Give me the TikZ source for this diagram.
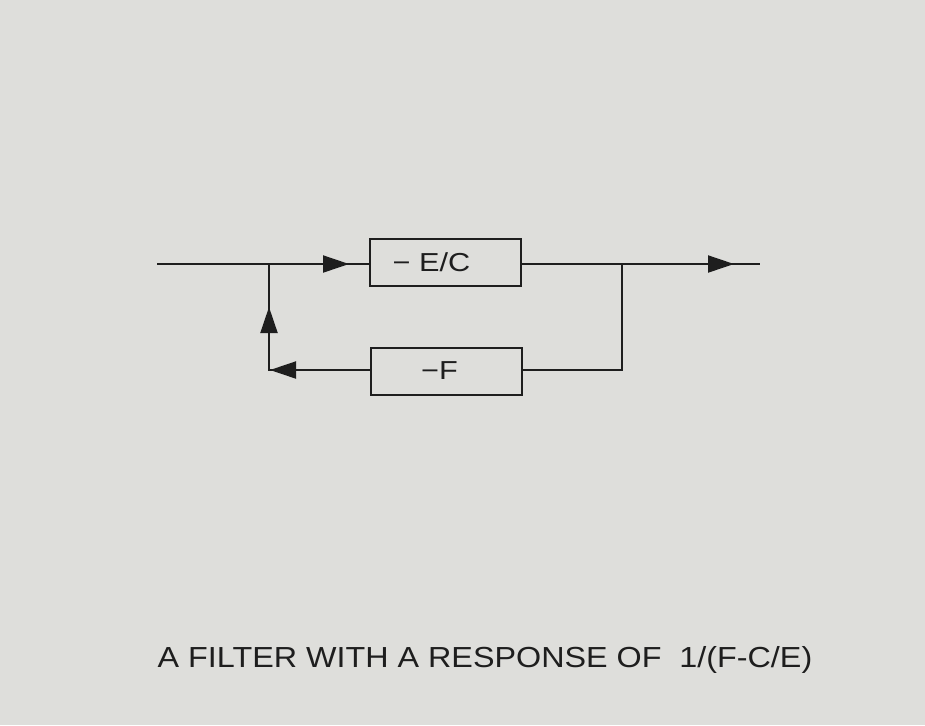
\documentclass[tikz,border=0pt]{standalone}
\usepackage{fontspec}
\usepackage{graphicx}
\setmainfont{Liberation Sans}
\usetikzlibrary{arrows.meta}
\definecolor{paper}{RGB}{222,222,219}
\definecolor{ink}{RGB}{30,30,30}
\begin{document}
\begin{tikzpicture}[x=0.5pt,y=-0.5pt,
  wire/.style={draw=ink,line width=1pt},
  tip/.style={wire,-{Triangle[length=13pt,width=8.5pt]}},
  blockbox/.style={draw=ink,line width=1pt,minimum width=75.5pt,minimum height=23.5pt,inner sep=0pt,font=\fontsize{13}{15}\selectfont,text=ink}]
\fill[paper] (0,0) rectangle (925,725);
\useasboundingbox (0,0) rectangle (925,725);
% blocks
\node[blockbox] (ec) at (445.5,262) {\hspace{-14pt}\scalebox{1.18}[1]{− E/C}};
\node[blockbox] (f) at (446.5,371) {\hspace{-7pt}\scalebox{1.18}[1]{−F}};
% coordinates
\coordinate (in) at (157,264);
\coordinate (j1) at (269,264);
\coordinate (a1) at (349,264);
\coordinate (j2) at (622,264);
\coordinate (a2) at (734,264);
\coordinate (out) at (760,264);
\coordinate (c1) at (622,370);
\coordinate (c2) at (269,370);
\coordinate (a3) at (270,370);
\coordinate (a4) at (269,307);
% forward path
\draw[wire] (in) -- (in -| ec.west);
\draw[tip] (in) -- (a1);
\draw[wire] (out -| ec.east) -- (out);
\draw[tip] (out -| ec.east) -- (a2);
% feedback path
\draw[wire] (j2) -- (c1) -- (c1 -| f.east);
\draw[wire] (c2 -| f.west) -- (c2) -- (j1);
\draw[tip] (c2 -| f.west) -- (a3);
\draw[tip] (c2) -- (a4);
% caption
\node[text=ink,font=\fontsize{14.5}{17}\selectfont,anchor=base] (cap) at (485,667) {\scalebox{1.114}[1]{A FILTER WITH A RESPONSE OF\ \ 1/(F-C/E)}};
\end{tikzpicture}
\end{document}
